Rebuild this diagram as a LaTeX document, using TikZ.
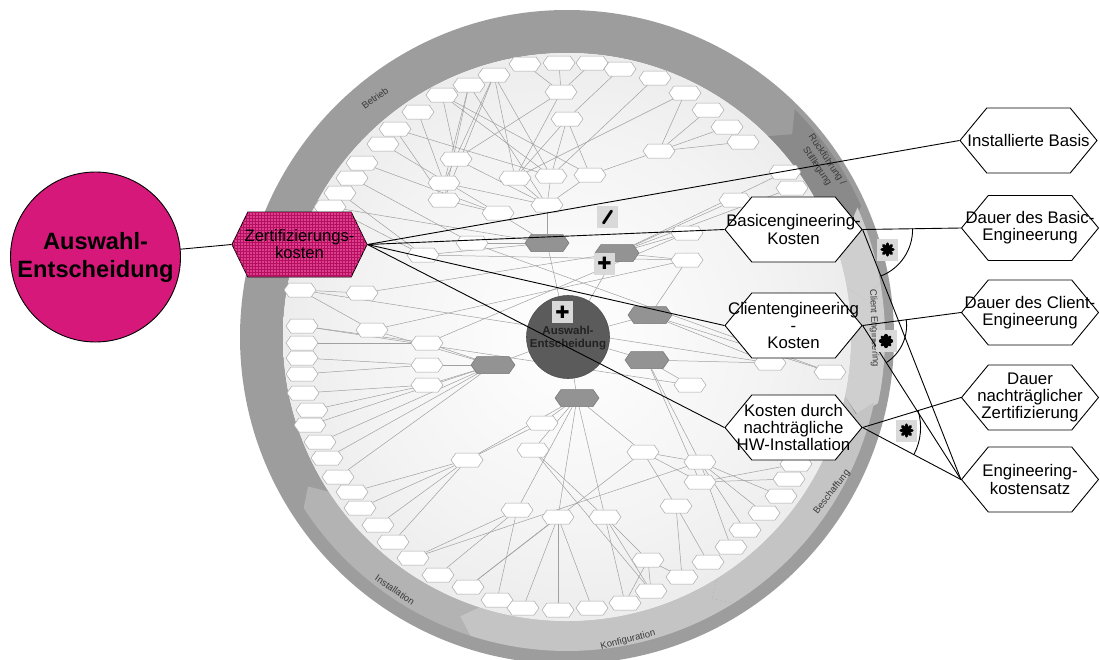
\documentclass[tikz,border=0pt]{standalone}
\usepackage{fontspec}
\setmainfont{Liberation Sans}
\newfontfamily\symfont{DejaVu Sans}
\usetikzlibrary{shapes.symbols,patterns}
\pgfdeclarelayer{back}
\pgfdeclarelayer{edges}
\pgfsetlayers{back,edges,main}

\definecolor{magentafill}{HTML}{D6187A}
\definecolor{hatchbase}{HTML}{DE3E8E}
\definecolor{hatchline}{HTML}{B5105F}
\definecolor{ringbase}{HTML}{9D9D9D}
\definecolor{ringdark}{HTML}{8A8A8A}
\definecolor{ringlightA}{HTML}{CFCFCF}
\definecolor{ringlightB}{HTML}{C4C4C4}
\definecolor{ringlightC}{HTML}{B3B3B3}
\definecolor{discA}{HTML}{FFFFFF}
\definecolor{discB}{HTML}{F3F3F3}
\definecolor{discC}{HTML}{E3E3E3}
\definecolor{discD}{HTML}{D6D6D6}
\definecolor{discE}{HTML}{CCCCCC}
\definecolor{hubgray}{HTML}{939393}
\definecolor{ctrgray}{HTML}{5B5B5B}
\definecolor{ctrtext}{HTML}{222222}
\definecolor{signbg}{HTML}{D9D9D9}
\definecolor{labelgray}{HTML}{3A3A3A}
\definecolor{edgegray}{HTML}{A0A0A0}
\definecolor{smallborder}{HTML}{A8A8A8}

\pgfdeclareradialshading{discshade}{\pgfpointorigin}{color(0bp)=(discA); color(18bp)=(discB); color(36bp)=(discC); color(44bp)=(discD); color(50bp)=(discE)}

% annular chevron segment of the process ring: start, end, inner r, outer r, colour, tip angle
\newcommand\ringsector[6]{%
  \fill[#5] plot[domain=#1:#2,samples=40] ({567+#4*cos(\x)},{337+#4*sin(\x)})
    -- ({567+(#3+#4)/2*cos(#2+#6)},{337+(#3+#4)/2*sin(#2+#6)})
    -- plot[domain=#2:#1,samples=40] ({567+#3*cos(\x)},{337+#3*sin(\x)})
    -- ({567+(#3+#4)/2*cos(#1+#6)},{337+(#3+#4)/2*sin(#1+#6)}) -- cycle;}

\tikzset{
  smallhex/.style={signal, signal to=west and east, signal pointer angle=110,
    draw=smallborder, line width=0.5, fill=white, minimum width=32, minimum height=14, inner sep=0pt},
  hubhex/.style={smallhex, fill=hubgray, draw=hubgray!80!black, minimum width=44, minimum height=17},
  bighex/.style={signal, signal to=west and east, signal pointer angle=101,
    draw=black, line width=0.9, fill=white, minimum width=137, minimum height=65, inner sep=0pt},
  hextext/.style={align=center, font=\fontsize{16.8}{17.3}\selectfont, inner sep=0pt},
  graphline/.style={draw=edgegray, line width=0.5},
  mainline/.style={draw=black, line width=0.9},
  ringlabel/.style={font=\fontsize{9.5}{12}\selectfont, text=labelgray, align=center, inner sep=0pt},
  signbox/.style={fill=signbg, minimum width=21, minimum height=22, inner sep=0pt},
}

\begin{document}
\begin{tikzpicture}[x=1pt,y=-1pt]
\useasboundingbox (0,0) rectangle (1100,659);

% ---- process ring and inner disc
\begin{pgfonlayer}{back}
\fill[white] (0,0) rectangle (1100,659);
\fill[ringbase, even odd rule] (567,337) circle (327) (567,337) circle (284);
\ringsector{-45}{-24}{284}{322}{ringdark}{3}
\ringsector{-24}{-10}{284}{318}{ringlightA}{3}
\ringsector{-10}{12}{284}{318}{ringlightA}{3}
\ringsector{12}{58}{284}{314}{ringlightB}{3}
\ringsector{58}{108}{284}{314}{ringlightB}{3}
\ringsector{108}{147}{284}{314}{ringlightC}{3}
\shade[shading=discshade] (567,337) circle (284);
\end{pgfonlayer}

\node[ringlabel, rotate=36] (lbetrieb) at (375,98) {Betrieb};
\node[ringlabel, rotate=-56] (lrueck) at (822,163) {Rückführung /\\Stilllegung};
\node[ringlabel, rotate=-88] (lclient) at (874,328) {Client Engineering};
\node[ringlabel, rotate=52] (lbesch) at (832,492) {Beschaffung};
\node[ringlabel, rotate=14] (lkonf) at (628,640) {Konfiguration};
\node[ringlabel, rotate=-35] (linst) at (395,590) {Installation};

% ---- small cost nodes of the overview graph
\foreach \n/\px/\py in {
  a1/525/64, a2/559/63, a3/592/63, a4/620/69, a5/655/78, a6/685/93, a7/708/110, a8/727/127, a9/743/142,
  a10/494/75, a11/469/85, a12/442/95, a13/418/112, a14/395/129, a15/383/144, a16/362/163, a17/352/178,
  a18/340/193, a19/330/207, a20/785/172, a21/792/188, a22/735/200,
  a24/300/290, a25/302/326, a26/302/343, a27/302/358, a28/302/374,
  L1/303/393, L2/312/410, L3/310/425, L4/320/442, L5/327/458, L6/338/477, L7/352/492, L8/360/508,
  L9/378/525, L10/393/542, L11/413/558, L12/438/575, L13/468/587, L14/497/600, L15/523/608,
  L16/558/610, L17/592/608, L18/625/603,
  R1/651/591, R2/682/577, R3/708/562, R4/731/547, R5/745/530, R6/764/513, R7/781/496, R8/789/479, R9/796/464,
  n1/547/205, n2/498/213, n3/472/243, n4/423/255, n5/427/343, n6/427/365, n7/427/385,
  n8/687/233, n9/687/260, n10/690/385, n11/542/423, n12/533/450, n13/467/460, n14/517/510,
  n15/558/517, n16/605/517, n17/643/452, n18/700/462, n19/700/482, n20/676/506, n21/648/560,
  n22/561/92, n23/567/119, n24/659/151, n25/456/159, n26/444/183, n27/444/200, n28/515/178,
  n29/551/176, n30/590/175, n31/362/293, n32/372/330, n35/770/363, n36/830/372}
  \node[smallhex] (\n) at (\px,\py) {};

\foreach \n/\px/\py in {g1/547/243, g2/617/253, g3/650/315, g4/647/360, g5/493/365, g6/577/398}
  \node[hubhex] (\n) at (\px,\py) {};

\node[circle, minimum size=83, fill=ctrgray, draw=ctrgray!85!black, line width=0.6, inner sep=0pt] (ctr) at (568,337) {};
\node[font=\fontsize{11.5}{13.5}\bfseries\selectfont, text=ctrtext, align=center, inner sep=0pt] (ctrt) at (568,338) {Auswahl-\\Entscheidung};

\begin{pgfonlayer}{edges}
\foreach \a/\b in {
  n22/a2, n22/a3, n22/a1, n22/n25, n22/n28,
  n23/n28, n23/n30, n23/a4, n23/n29,
  n24/a7, n24/a8, n24/a9, n24/n30, n24/a6,
  a10/n28, a10/n29, a10/n27, a10/n26,
  a11/n26, a11/n27, a11/n1,
  a12/n25, a12/n29, a12/n30,
  a13/n26, a14/n27, a14/n29, a15/n2, a16/n2, a17/n3, a18/n4, a19/n4, a19/g1,
  a5/n29, a6/n28,
  n25/n1, n26/n1, n27/n2, n28/n1, n29/n1, n30/n1,
  n1/g1, n2/g1, n3/g1, n4/g1,
  g1/ctr, g2/ctr, g3/ctr, g4/ctr, g5/ctr, g6/ctr,
  g2/n8, g2/n9, g2/a20, g2/a22, g2/a21,
  g3/n9, g3/n35, g3/n36,
  g4/n10, g4/n18, g4/n19, g4/n35,
  g5/n5, g5/n6, g5/n7, g5/n32,
  n5/a25, n5/a26, n6/a27, n6/a28, n7/L1, n7/L2, n32/a24, n31/a24,
  g5/L3, g5/L4, g5/L5, g5/L6,
  n13/L7, n13/L8, n13/L9, n13/L10,
  g6/n11, g6/n12, g6/n14, g6/n15, g6/n16, g6/n17, g6/n13,
  n11/n13, n12/n16,
  n14/L11, n14/L12, n14/L14,
  n15/L13, n15/L15, n15/L16, n15/L17,
  n16/L18, n16/n21, n16/R1,
  n21/R1, n21/R2, n21/L18,
  n17/n18, n17/n19, n17/n20,
  n18/R4, n18/R5, n18/R6, n18/R7,
  n19/R8, n19/R9, n20/R2, n20/R3,
  n4/n9, n5/n8, n32/n9, n31/g2, a25/n10, a24/n35, n3/n36, L11/n18, L13/n17, n12/R1}
  \draw[graphline] (\a) -- (\b);
\end{pgfonlayer}

% ---- decision and cost model
\node[circle, fill=magentafill, draw=black, line width=0.9, minimum size=170, inner sep=0pt] (aw) at (95.5,257) {};
\node[font=\fontsize{23.6}{28}\bfseries\selectfont, align=center, inner sep=0pt] (awt) at (aw.center) {Auswahl-\\Entscheidung};

\node[bighex, minimum width=135, signal pointer angle=128, fill=hatchbase,
      postaction={pattern=grid, pattern color=hatchline}] (zk) at (299.5,244.5) {};
\node[hextext, font=\fontsize{16.6}{17}\selectfont] (zkt) at (zk.center) {Zertifizierungs-\\kosten};

\node[bighex] (ib) at (1028.5,140.5) {};
\node[hextext] (ibt) at (ib.center) {Installierte Basis};
\node[bighex] (be) at (793.5,229.5) {};
\node[hextext] (bet) at (be.center) {Basicengineering-\\Kosten};
\node[bighex] (db) at (1030,228) {};
\node[hextext] (dbt) at (db.center) {Dauer des Basic-\\Engineerung};
\node[bighex] (ce) at (793.5,325.5) {};
\node[hextext] (cet) at (ce.center) {Clientengineering\\-\\Kosten};
\node[bighex] (dc) at (1030,312.5) {};
\node[hextext] (dct) at (dc.center) {Dauer des Client-\\Engineerung};
\node[bighex] (kd) at (793.5,427.5) {};
\node[hextext] (kdt) at (kd.center) {Kosten durch\\nachträgliche\\HW-Installation};
\node[bighex] (dn) at (1030,397.5) {};
\node[hextext] (dnt) at (dn.center) {Dauer\\nachträglicher\\Zertifizierung};
\node[bighex] (ek) at (1030,479.5) {};
\node[hextext] (ekt) at (ek.center) {Engineering-\\kostensatz};

\draw[mainline] (aw) -- (zk.west);
\draw[mainline] (zk.east) -- (ib.west);
\draw[mainline] (zk.east) -- (be.west);
\draw[mainline] (zk.east) -- (ce.west);
\draw[mainline] (zk.east) -- (kd.west);

\draw[mainline] (be.east) -- (db.west);
\draw[mainline] (be.east) -- (ek.west);
\draw[mainline] (ce.east) -- (dc.west);
\draw[mainline] (ce.east) -- (ek.west);
\draw[mainline] (kd.east) -- (dn.west);
\draw[mainline] (kd.east) -- (ek.west);

% multiplication arcs
\draw[mainline] ([shift={(-0.9:50)}]be.east) arc[start angle=-0.9, end angle=68.3, radius=50];
\draw[mainline] ([shift={(-7.7:44)}]ce.east) arc[start angle=-7.7, end angle=57, radius=44];
\draw[mainline] ([shift={(-17:58)}]kd.east) arc[start angle=-17, end angle=27.4, radius=58];

% operator signs
\node[signbox] (minus) at (607.5,217) {};
\draw[line width=2.8, line cap=round] ([shift={(-4,6)}]minus.center) -- ([shift={(4,-6)}]minus.center);
\node[signbox, font=\symfont\fontsize{17}{17}\selectfont] (plusa) at (604.5,263.5) {✚};
\node[signbox, font=\symfont\fontsize{17}{17}\selectfont] (plusb) at (562.5,312) {✚};
\node[signbox] (asta) at (887.5,249.5) {};
\node[signbox] (astb) at (886,341) {};
\node[signbox] (astc) at (906.5,430.5) {};
% bold eight-spoked multiplication marks
\foreach \s in {asta,astb,astc} {
  \foreach \ang in {0,45,90,135}
    \draw[line width=3.2, line cap=round] ([shift={(\ang:5.5)}]\s.center) -- ([shift={(\ang+180:5.5)}]\s.center);
  \fill (\s.center) circle (3.6);
}
\end{tikzpicture}
\end{document}
